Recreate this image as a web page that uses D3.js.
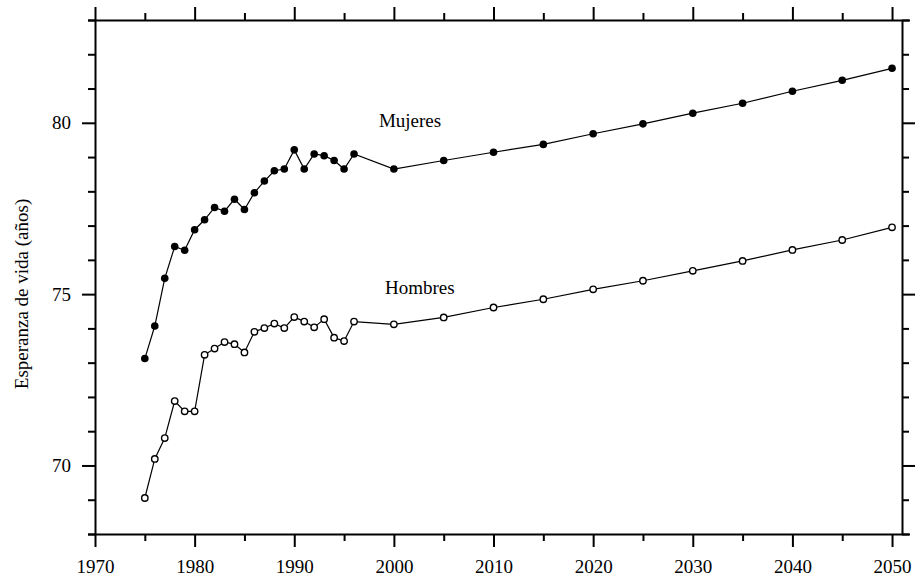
<!DOCTYPE html>
<html>
<head>
<meta charset="utf-8">
<script src="https://cdn.jsdelivr.net/npm/d3@7"></script>
<style>
  html, body { margin: 0; padding: 0; background: #fff; }
  svg text { font-family: "Liberation Serif", "Times New Roman", serif; fill: #000; }
</style>
</head>
<body>
<svg id="chart" width="915" height="582"></svg>
<script>
const years = [1975,1976,1977,1978,1979,1980,1981,1982,1983,1984,1985,1986,1987,1988,1989,1990,1991,1992,1993,1994,1995,1996,
               2000,2005,2010,2015,2020,2025,2030,2035,2040,2045,2050];
const mujeres = [73.12,74.07,75.46,76.39,76.28,76.88,77.17,77.53,77.42,77.77,77.47,77.96,78.30,78.60,78.65,79.21,78.65,79.09,79.04,78.90,78.65,79.09,
                 78.65,78.90,79.14,79.37,79.68,79.97,80.28,80.57,80.92,81.24,81.59];
const hombres = [69.05,70.19,70.80,71.88,71.58,71.58,73.23,73.41,73.60,73.54,73.30,73.90,74.01,74.14,74.01,74.33,74.20,74.03,74.27,73.73,73.63,74.20,
                 74.12,74.32,74.61,74.85,75.14,75.39,75.68,75.97,76.29,76.58,76.95];
const xMajorTicks = [1970,1980,1990,2000,2010,2020,2030,2040,2050];
const xMinorTicks = [1975,1985,1995,2005,2015,2025,2035,2045];
const yMajorTicks = [70,75,80];
const yMinorTicks = [68,69,71,72,73,74,76,77,78,79,81,82,83];
const yAxisTitle = "Esperanza de vida (años)";
const seriesLabels = ["Mujeres", "Hombres"];

const svg = d3.select("#chart");
const mLeft = 95, mRight = 902, mTop = 20, mBottom = 534;
const x = d3.scaleLinear().domain([1970, 2051]).range([mLeft, mRight]);
const y = d3.scaleLinear().domain([68, 83]).range([mBottom, mTop]);

const FS = 19;
const MAJ = 13, MIN = 7;

function styleAxis(g) {
  g.selectAll("path.domain").attr("stroke", "#000").attr("stroke-width", 2);
  g.selectAll(".tick line").attr("stroke", "#000").attr("stroke-width", 2);
  g.selectAll("text").attr("font-size", FS).attr("font-family", '"Liberation Serif", serif').attr("fill", "#000");
}

// bottom axis
svg.append("g").attr("transform", `translate(0,${mBottom})`)
  .call(d3.axisBottom(x).tickValues(xMajorTicks).tickSize(MAJ).tickSizeOuter(0).tickPadding(13).tickFormat(d3.format("d")))
  .call(styleAxis).call(g => g.select(".domain").attr("d", `M${mLeft - MIN},0.5H${mRight + MIN + 1}`));
svg.append("g").attr("transform", `translate(0,${mBottom})`)
  .call(d3.axisBottom(x).tickValues(xMinorTicks).tickSize(MIN).tickSizeOuter(0).tickFormat(""))
  .call(styleAxis).call(g => g.select(".domain").remove());

// top axis
svg.append("g").attr("transform", `translate(0,${mTop})`)
  .call(d3.axisTop(x).tickValues(xMajorTicks).tickSize(MAJ).tickSizeOuter(0).tickFormat(""))
  .call(styleAxis).call(g => g.select(".domain").attr("d", `M${mLeft - MIN},0.5H${mRight + MIN + 1}`));
svg.append("g").attr("transform", `translate(0,${mTop})`)
  .call(d3.axisTop(x).tickValues(xMinorTicks).tickSize(MIN).tickSizeOuter(0).tickFormat(""))
  .call(styleAxis).call(g => g.select(".domain").remove());

// left axis
svg.append("g").attr("transform", `translate(${mLeft},0)`)
  .call(d3.axisLeft(y).tickValues(yMajorTicks).tickSize(MAJ).tickSizeOuter(0).tickPadding(11).tickFormat(d3.format("d")))
  .call(styleAxis);
svg.append("g").attr("transform", `translate(${mLeft},0)`)
  .call(d3.axisLeft(y).tickValues(yMinorTicks).tickSize(MIN).tickSizeOuter(0).tickFormat(""))
  .call(styleAxis).call(g => g.select(".domain").remove());

// right axis
svg.append("g").attr("transform", `translate(${mRight},0)`)
  .call(d3.axisRight(y).tickValues(yMajorTicks).tickSize(MAJ).tickSizeOuter(0).tickFormat(""))
  .call(styleAxis);
svg.append("g").attr("transform", `translate(${mRight},0)`)
  .call(d3.axisRight(y).tickValues(yMinorTicks).tickSize(MIN).tickSizeOuter(0).tickFormat(""))
  .call(styleAxis).call(g => g.select(".domain").remove());

// y title
svg.append("text")
  .attr("transform", `translate(28,${(y(68) + y(83)) / 2 + 17}) rotate(-90)`)
  .attr("text-anchor", "middle")
  .attr("font-size", FS)
  .attr("fill", "#000")
  .text(yAxisTitle);

const line = d3.line().x(d => x(d[0])).y(d => y(d[1]));
const fem = years.map((yr, i) => [yr, mujeres[i]]);
const mal = years.map((yr, i) => [yr, hombres[i]]);

svg.append("path").datum(fem).attr("d", line).attr("fill", "none").attr("stroke", "#000").attr("stroke-width", 1.2);
svg.append("path").datum(mal).attr("d", line).attr("fill", "none").attr("stroke", "#000").attr("stroke-width", 1.2);

svg.append("g").selectAll("circle").data(fem).join("circle")
  .attr("cx", d => x(d[0])).attr("cy", d => y(d[1])).attr("r", 3.8)
  .attr("fill", "#000");
svg.append("g").selectAll("circle").data(mal).join("circle")
  .attr("cx", d => x(d[0])).attr("cy", d => y(d[1])).attr("r", 3.2)
  .attr("fill", "#fff").attr("stroke", "#000").attr("stroke-width", 1.4);

// series labels
const labelPos = [[1998.5, 79.88], [1999.1, 75.0]];
svg.append("g").selectAll("text").data(seriesLabels).join("text")
  .attr("x", (d, i) => x(labelPos[i][0]))
  .attr("y", (d, i) => y(labelPos[i][1]))
  .attr("font-size", FS)
  .attr("fill", "#000")
  .text(d => d);
</script>
</body>
</html>
